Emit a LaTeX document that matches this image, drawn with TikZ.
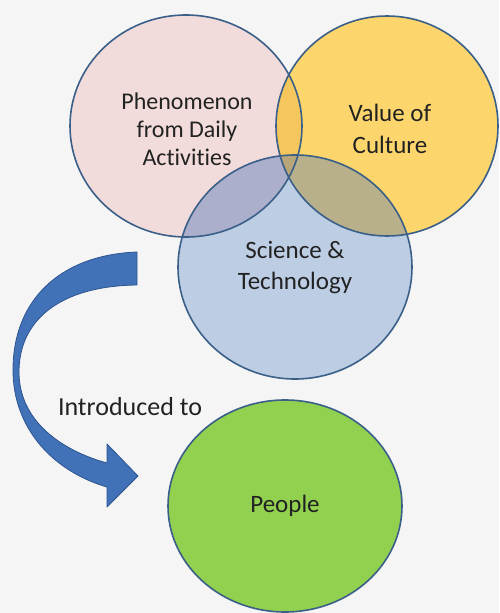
\documentclass[tikz,border=0pt]{standalone}
\usepackage{fontspec}
\setmainfont{Carlito}[Ligatures=NoCommon]
\usetikzlibrary{shapes.geometric}
\definecolor{bg}{HTML}{F5F5F5}
\definecolor{pinkc}{HTML}{F2DCDB}
\definecolor{yellowc}{HTML}{FCD66C}
\definecolor{bluec}{HTML}{BCCDE4}
\definecolor{pyc}{HTML}{F5C65C}
\definecolor{pbc}{HTML}{ABAFCB}
\definecolor{ybc}{HTML}{B7B08A}
\definecolor{pybc}{HTML}{B8A679}
\definecolor{greenc}{HTML}{92D050}
\definecolor{edgec}{HTML}{3A5F88}
\definecolor{arrowc}{HTML}{4172B8}
\definecolor{arrowedge}{HTML}{2E5590}
\definecolor{txt}{HTML}{222222}
\tikzset{
  circ/.style={ellipse, draw=edgec, line width=1.6pt, inner sep=0pt, align=center, text=txt},
  lbl/.style={text=txt, inner sep=0pt},
}
\begin{document}
\begin{tikzpicture}[x=1pt,y=-1pt]
\fill[bg] (0,0) rectangle (499,613);
\useasboundingbox (0,0) rectangle (499,613);
% base fills
\fill[pinkc] (186,126) ellipse [x radius=116, y radius=111];
\fill[yellowc] (387,126) ellipse [x radius=111, y radius=110];
\fill[bluec] (295,267) ellipse [x radius=117, y radius=112];
% overlaps
\begin{scope}
  \clip (186,126) ellipse [x radius=116, y radius=111];
  \fill[pyc] (387,126) ellipse [x radius=111, y radius=110];
  \fill[pbc] (295,267) ellipse [x radius=117, y radius=112];
\end{scope}
\begin{scope}
  \clip (387,126) ellipse [x radius=111, y radius=110];
  \fill[ybc] (295,267) ellipse [x radius=117, y radius=112];
  \clip (186,126) ellipse [x radius=116, y radius=111];
  \fill[pybc] (295,267) ellipse [x radius=117, y radius=112];
\end{scope}
% outlined nodes with text
\node[circ, minimum width=232pt, minimum height=222pt] (pheno) at (186,126) {};
\node[circ, minimum width=222pt, minimum height=220pt] (value) at (387,126) {};
\node[circ, minimum width=234pt, minimum height=224pt] (sci) at (295,267) {};
\node[circ, fill=greenc, minimum width=234pt, minimum height=212pt, font=\fontsize{25}{30}\selectfont] (people) at (285,506) {People};
\node[lbl, align=center, font=\fontsize{24}{28}\selectfont] (phenotext) at (187,129) {Phenomenon\\from Daily\\Activities};
\node[lbl, align=center, font=\fontsize{25}{32}\selectfont] (valuetext) at (390,129) {Value of\\Culture};
\node[lbl, align=center, font=\fontsize{25}{31}\selectfont] (scitext) at (295,268) {Science \&\\Technology};
\node[lbl, font=\fontsize{26}{30}\selectfont] (intro) at (130,407) {Introduced to};
% curved block arrow
\fill[arrowc, draw=arrowedge, line width=0.8pt, line join=round]
  (137,252) .. controls (60,255) and (13,300) .. (13,370)
  .. controls (13,430) and (55,472) .. (107,487)
  -- (107,507) -- (138,476) -- (107,444) -- (107,463)
  .. controls (60,450) and (19,420) .. (19,372)
  .. controls (19,320) and (60,286) .. (137,285) -- cycle;
\end{tikzpicture}
\end{document}
